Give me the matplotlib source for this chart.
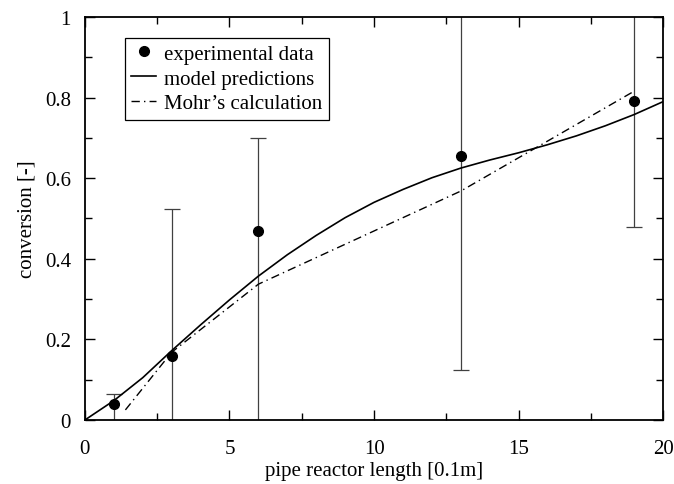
import numpy as np
import matplotlib.pyplot as plt
from matplotlib.ticker import MultipleLocator

plt.rcParams['font.family'] = ['Liberation Serif', 'DejaVu Serif']
plt.rcParams['font.size'] = 15

# experimental data with error bars
x_exp = np.array([1, 3, 6, 13, 19])
y_exp = np.array([0.040, 0.158, 0.468, 0.656, 0.792])
err_low = np.array([0.10, 0.365, 0.50, 0.533, 0.312])
err_high = np.array([0.025, 0.365, 0.232, 0.533, 0.312])

# model predictions
x_model = np.array([0, 1, 2, 3, 4, 5, 6, 7, 8, 9, 10, 11, 12,
                    13, 14, 15, 16, 17, 18, 19, 20])
y_model = np.array([0, 0.048, 0.105, 0.172, 0.236, 0.298, 0.357, 0.41,
                    0.458, 0.502, 0.54, 0.572, 0.601, 0.625, 0.645, 0.663,
                    0.683, 0.705, 0.73, 0.758, 0.79])

# Mohr's calculation
x_mohr = np.array([1.4, 3, 6, 13, 19])
y_mohr = np.array([0.025, 0.168, 0.337, 0.568, 0.816])

fig = plt.figure(figsize=(6.74, 4.85), dpi=100)
ax = fig.add_axes([0.126, 0.132, 0.858, 0.831])

ax.errorbar(x_exp, y_exp, yerr=[err_low, err_high], fmt='none',
            ecolor='0.25', elinewidth=0.9, capsize=6, capthick=0.9)
ax.plot(x_exp, y_exp, 'o', color='black', ms=7, label='experimental data')
ax.plot(x_model, y_model, '-', color='black', lw=1.2, label='model predictions')
ax.plot(x_mohr, y_mohr, '-.', color='black', lw=1.0,
        dashes=(6, 3, 1, 3), label='Mohr\u2019s calculation')

ax.set_xlim(0, 20)
ax.set_ylim(0, 1)
ax.set_xticks([0, 5, 10, 15, 20])
ax.set_xticklabels(['0', '5', '10', '15', '20'])
ax.set_yticks([0, 0.2, 0.4, 0.6, 0.8, 1])
ax.set_yticklabels(['0', '0.2', '0.4', '0.6', '0.8', '1'])
ax.xaxis.set_minor_locator(MultipleLocator(2.5))
ax.yaxis.set_minor_locator(MultipleLocator(0.1))
ax.tick_params(which='both', direction='in', top=True, right=True)
ax.tick_params(which='major', length=7, width=1)
ax.tick_params(which='minor', length=5, width=1)
ax.tick_params(axis='x', pad=14)
ax.tick_params(axis='y', pad=10)
for s in ax.spines.values():
    s.set_linewidth(1.3)

ax.set_xlabel('pipe reactor length [0.1m]', labelpad=2)
ax.set_ylabel('conversion [-]', labelpad=6)

leg = ax.legend(loc='upper left', bbox_to_anchor=(0.069, 0.948),
                borderaxespad=0, fancybox=False, framealpha=1,
                edgecolor='black', handlelength=1.2, handletextpad=0.4,
                labelspacing=0.25, borderpad=0.3)
leg.get_frame().set_linewidth(0.9)

fig.savefig('out.png', dpi=100)
